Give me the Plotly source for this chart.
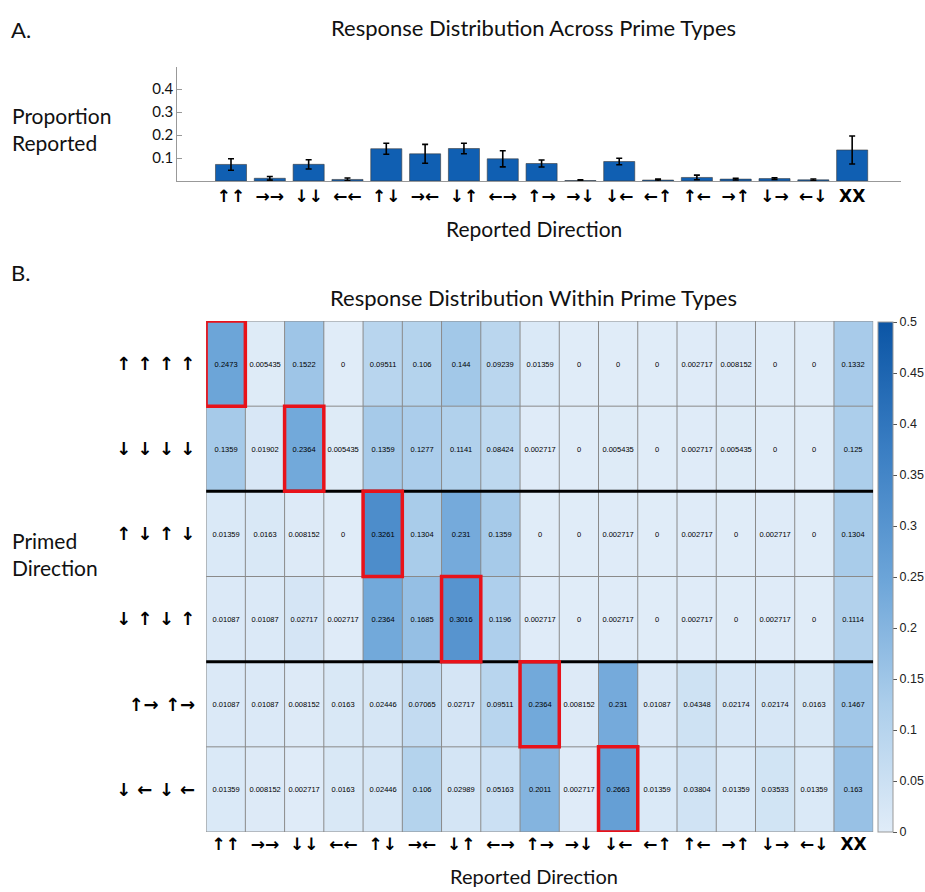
import plotly.graph_objects as go

# ---------------- data ----------------
reported = ["↑↑", "→→", "↓↓", "←←", "↑↓", "→←", "↓↑", "←→", "↑→",
            "→↓", "↓←", "←↑", "↑←", "→↑", "↓→", "←↓", "XX"]
primed = ["↑ ↑ ↑ ↑", "↓ ↓ ↓ ↓", "↑ ↓ ↑ ↓", "↓ ↑ ↓ ↑",
          "↑→ ↑→", "↓ ← ↓ ←"]

bar_mean = [0.0720, 0.0118, 0.0725, 0.0068, 0.1404, 0.1182, 0.1413, 0.0965,
            0.0761, 0.0018, 0.0847, 0.0041, 0.0154, 0.0082, 0.0104, 0.0050, 0.1350]
bar_err = [0.025, 0.008, 0.020, 0.006, 0.024, 0.041, 0.023, 0.035,
           0.015, 0.003, 0.014, 0.004, 0.010, 0.004, 0.004, 0.004, 0.061]

z = [
    [0.2473, 0.005435, 0.1522, 0, 0.09511, 0.106, 0.144, 0.09239, 0.01359, 0, 0, 0, 0.002717, 0.008152, 0, 0, 0.1332],
    [0.1359, 0.01902, 0.2364, 0.005435, 0.1359, 0.1277, 0.1141, 0.08424, 0.002717, 0, 0.005435, 0, 0.002717, 0.005435, 0, 0, 0.125],
    [0.01359, 0.0163, 0.008152, 0, 0.3261, 0.1304, 0.231, 0.1359, 0, 0, 0.002717, 0, 0.002717, 0, 0.002717, 0, 0.1304],
    [0.01087, 0.01087, 0.02717, 0.002717, 0.2364, 0.1685, 0.3016, 0.1196, 0.002717, 0, 0.002717, 0, 0.002717, 0, 0.002717, 0, 0.1114],
    [0.01087, 0.01087, 0.008152, 0.0163, 0.02446, 0.07065, 0.02717, 0.09511, 0.2364, 0.008152, 0.231, 0.01087, 0.04348, 0.02174, 0.02174, 0.0163, 0.1467],
    [0.01359, 0.008152, 0.002717, 0.0163, 0.02446, 0.106, 0.02989, 0.05163, 0.2011, 0.002717, 0.2663, 0.01359, 0.03804, 0.01359, 0.03533, 0.01359, 0.163],
]
highlight_cols = [0, 2, 4, 6, 8, 10]   # one per primed row
group_breaks = [2, 4]                   # thick lines before these rows
cbar_ticks = [0, 0.05, 0.1, 0.15, 0.2, 0.25, 0.3, 0.35, 0.4, 0.45, 0.5]
bar_ticks = [0.1, 0.2, 0.3, 0.4]

W, H = 925, 892
FONT = "Lato"
ncol, nrow = len(reported), len(primed)
xi = list(range(ncol))
ARROWFONT = dict(family="DejaVu Sans", size=17, color="black", weight="bold")

fig = go.Figure()

# ---------------- panel A: bars ----------------
fig.add_trace(go.Bar(
    x=xi, y=bar_mean, width=0.8,
    marker=dict(color="#105fb2", line=dict(color="#3a3a3a", width=0.6)),
    error_y=dict(type="data", array=bar_err, color="black", thickness=1.6, width=3),
    xaxis="x", yaxis="y", showlegend=False,
))

# ---------------- panel B: heatmap ----------------
text = [[f"{v:.4g}" for v in row] for row in z]
fig.add_trace(go.Heatmap(
    z=z, x=xi, y=list(range(nrow)), text=text, texttemplate="%{text}",
    textfont=dict(family="Liberation Sans", size=7.5, color="black"),
    colorscale=[[0, "#e0ecf8"], [0.25, "#acceeb"], [0.5, "#6ba4d8"], [0.75, "#3a7ec3"], [1, "#0b55a5"]],
    zmin=0, zmax=0.5, xaxis="x2", yaxis="y2",
    colorbar=dict(x=0.9535, xanchor="left", y=1 - 577 / H, yanchor="middle",
                  len=510 / H, lenmode="fraction", thickness=15, ypad=0, xpad=0,
                  outlinecolor="#999", outlinewidth=1,
                  tickvals=cbar_ticks, ticktext=[f"{t:g}" for t in cbar_ticks],
                  ticks="outside", ticklen=4, tickcolor="#555",
                  tickfont=dict(family="Liberation Sans", size=12.5, color="#222")),
))

shapes = []
# cell grid lines
for c in range(ncol + 1):
    shapes.append(dict(type="line", xref="x2", yref="y2", x0=c - 0.5, x1=c - 0.5,
                       y0=-0.5, y1=nrow - 0.5, line=dict(color="#8a8a8a", width=1)))
for r in range(nrow + 1):
    shapes.append(dict(type="line", xref="x2", yref="y2", x0=-0.5, x1=ncol - 0.5,
                       y0=r - 0.5, y1=r - 0.5, line=dict(color="#8a8a8a", width=1)))
# group separators
for r in group_breaks:
    shapes.append(dict(type="line", xref="x2", yref="y2", x0=-0.5, x1=ncol - 0.5,
                       y0=r - 0.5, y1=r - 0.5, line=dict(color="black", width=3)))
# red highlight boxes
for r, c in enumerate(highlight_cols):
    shapes.append(dict(type="rect", xref="x2", yref="y2", x0=c - 0.5, x1=c + 0.5,
                       y0=r - 0.5, y1=r + 0.5, line=dict(color="#e8121a", width=3.5)))

ann = []
def txt(s, x, y, size=20, xanchor="left", yanchor="middle"):
    ann.append(dict(text=s, x=x / W, y=1 - y / H, xref="paper", yref="paper",
                    showarrow=False, xanchor=xanchor, yanchor=yanchor, align="left",
                    font=dict(family=FONT, size=size, color="#111")))

txt("A.", 9, 30, 22)
txt("B.", 9, 272, 22)
txt("Response Distribution Across Prime Types", 536, 28, 22, "center")
txt("Response Distribution Within Prime Types", 536, 298, 22, "center")
txt("Proportion<br>Reported", 10, 129, 21)
txt("Reported Direction", 536, 228, 21, "center")
txt("Primed<br>Direction", 10, 554, 21)
txt("Reported Direction", 536, 876, 20, "center")

fig.update_layout(
    width=W, height=H, margin=dict(l=0, r=0, t=0, b=0),
    paper_bgcolor="white", plot_bgcolor="white",
    shapes=shapes, annotations=ann,
    xaxis=dict(domain=[178 / W, 905 / W], range=[-1.385, 17.26],
               tickvals=xi, ticktext=reported, showgrid=False, zeroline=False,
               showline=True, linecolor="#999", linewidth=1, ticks="",
               tickfont=ARROWFONT, anchor="y"),
    yaxis=dict(domain=[1 - 181 / H, 1 - 67 / H], range=[0, 0.496],
               tickvals=bar_ticks, ticktext=[f"{t:g}" for t in bar_ticks],
               showgrid=False, zeroline=False, showline=True, linecolor="#999",
               linewidth=1, ticks="inside", ticklen=5, tickcolor="#999",
               tickfont=dict(family=FONT, size=15, color="#111"), anchor="x"),
    xaxis2=dict(domain=[207 / W, 877 / W], range=[-0.5, ncol - 0.5],
                tickvals=xi, ticktext=reported, showgrid=False, zeroline=False,
                ticks="", tickfont=ARROWFONT, anchor="y2"),
    yaxis2=dict(domain=[1 - 832 / H, 1 - 321 / H], range=[nrow - 0.5, -0.5],
                tickvals=list(range(nrow)), ticktext=primed, showgrid=False,
                zeroline=False, ticks="", ticklabelstandoff=10,
                tickfont=dict(family="DejaVu Sans", size=18, color="black", weight="bold"),
                anchor="x2"),
)

fig.write_html("out.html")
